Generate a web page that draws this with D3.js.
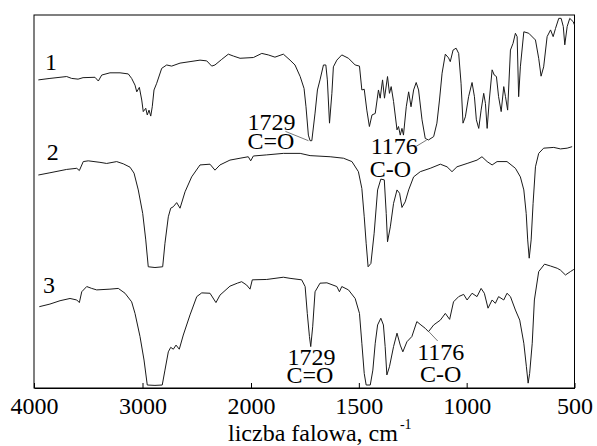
<!DOCTYPE html>
<html>
<head>
<meta charset="utf-8">
<script src="https://cdn.jsdelivr.net/npm/d3@7"></script>
<style>
  body { margin: 0; background: #fff; }
  svg text { font-family: "Liberation Serif", "Times New Roman", serif; fill: #000; }
</style>
</head>
<body>
<div id="chart"></div>
<script>
// wavenumber (cm-1), relative transmittance (arbitrary units, curves stacked)
var spectrum1 = [
  [3960,82.6],[3853,83.0],[3699,83.5],[3653,83.0],[3594,82.8],[3548,83.2],[3438,83.3],[3407,82.3],
  [3376,83.9],[3300,84.5],[3207,84.5],[3131,84.2],[3100,83.0],[3069,81.2],[3053,79.4],[3029,80.6],
  [3007,77.2],[2993,74.1],[2970,75.0],[2956,73.2],[2940,74.5],[2924,72.9],[2910,75.4],[2894,79.9],
  [2869,81.7],[2823,85.7],[2777,86.6],[2731,86.3],[2654,87.1],[2562,87.5],[2470,87.9],[2408,87.7],
  [2362,86.3],[2332,86.6],[2270,88.1],[2209,89.5],[2163,89.0],[2101,88.4],[1989,88.6],[1950,89.7],
  [1920,89.3],[1889,88.7],[1850,89.5],[1819,87.9],[1796,86.6],[1772,83.5],[1754,80.3],[1745,75.4],
  [1734,67.8],[1726,66.3],[1718,66.3],[1703,73.7],[1692,79.9],[1680,82.6],[1664,86.6],[1653,86.6],
  [1646,82.6],[1636,71.0],[1625,79.0],[1618,86.1],[1602,87.9],[1579,89.3],[1548,88.4],[1517,86.6],
  [1497,86.3],[1486,79.9],[1475,80.1],[1463,74.5],[1451,70.1],[1439,73.2],[1424,73.6],[1409,79.9],
  [1401,77.7],[1390,82.6],[1381,77.7],[1367,83.5],[1358,79.0],[1350,80.8],[1339,76.8],[1323,69.2],
  [1316,70.1],[1308,67.8],[1300,69.6],[1293,67.8],[1280,75.4],[1269,79.4],[1258,75.4],[1246,79.9],
  [1234,81.9],[1223,79.9],[1207,71.9],[1192,66.9],[1177,66.5],[1153,67.4],[1138,71.0],[1126,77.2],
  [1114,84.4],[1099,89.5],[1084,88.5],[1076,87.5],[1063,90.6],[1049,91.1],[1037,89.7],[1026,81.7],
  [1017,71.0],[1006,72.7],[991,78.1],[975,81.9],[964,78.1],[955,71.9],[944,69.6],[933,74.5],
  [921,79.0],[913,76.3],[905,69.6],[895,77.2],[882,85.3],[872,83.9],[862,83.5],[852,78.1],
  [840,74.1],[828,80.8],[820,78.1],[810,74.5],[797,90.6],[785,92.4],[774,95.1],[766,94.2],
  [759,78.1],[751,86.1],[735,95.5],[712,95.1],[681,93.3],[666,88.4],[655,83.6],[643,86.1],
  [627,94.2],[611,96.0],[599,94.2],[588,96.4],[573,99.1],[562,99.1],[552,96.9],[545,92.0],
  [534,96.9],[522,99.1],[506,98.2],[500,97.3]
];

var spectrum2 = [
  [3960,57.1],[3853,57.7],[3699,58.6],[3606,58.9],[3582,58.3],[3546,60.7],[3500,60.9],[3392,60.5],
  [3330,60.2],[3238,60.7],[3177,60.1],[3115,59.2],[3078,57.6],[3039,53.1],[2998,46.8],[2970,39.7],
  [2947,32.5],[2885,32.3],[2814,32.5],[2793,38.8],[2762,45.9],[2740,48.2],[2716,48.6],[2685,49.7],
  [2654,48.2],[2608,52.6],[2547,56.6],[2470,59.8],[2378,60.0],[2332,58.4],[2286,59.8],[2194,61.1],
  [2101,61.6],[2025,62.0],[2003,60.9],[1989,62.2],[1927,62.5],[1850,62.9],[1772,62.9],[1726,62.3],
  [1633,62.0],[1571,61.6],[1532,60.7],[1502,58.0],[1486,53.5],[1475,45.9],[1466,38.8],[1457,32.5],
  [1444,33.4],[1429,41.5],[1413,53.1],[1398,56.0],[1382,55.8],[1373,46.8],[1367,39.2],[1354,43.2],
  [1339,49.5],[1323,53.1],[1311,52.2],[1300,48.4],[1285,49.9],[1269,53.1],[1246,56.6],[1215,58.0],
  [1169,58.9],[1122,60.0],[1091,59.3],[1068,58.0],[1045,59.3],[998,60.2],[952,61.1],[929,62.0],
  [905,60.7],[882,59.8],[859,60.7],[813,60.7],[774,58.9],[751,56.6],[735,53.1],[724,46.8],
  [717,39.7],[710,34.8],[701,39.7],[692,49.5],[681,59.3],[666,62.9],[643,64.3],[596,64.5],
  [565,64.1],[534,64.3],[511,64.7]
];

var spectrum3 = [
  [3951,21.8],[3853,22.5],[3760,23.4],[3668,24.0],[3606,23.6],[3582,22.9],[3560,25.8],[3514,27.2],
  [3468,26.7],[3422,26.3],[3300,26.5],[3223,26.7],[3161,25.4],[3100,23.1],[3069,20.0],[3023,13.8],
  [2986,7.5],[2956,0.8],[2885,0.7],[2818,0.8],[2793,4.8],[2762,9.7],[2740,10.9],[2716,10.4],
  [2691,11.5],[2661,10.4],[2624,14.2],[2562,19.6],[2500,24.5],[2454,25.5],[2378,25.4],[2323,22.9],
  [2286,24.9],[2194,27.3],[2126,28.1],[2086,28.5],[2040,27.6],[2009,26.5],[1994,29.0],[1927,29.1],
  [1850,29.7],[1819,29.4],[1765,29.0],[1749,27.2],[1739,20.0],[1729,13.8],[1723,11.1],[1714,16.4],
  [1703,25.8],[1680,28.1],[1648,28.2],[1602,27.2],[1590,25.8],[1579,27.2],[1548,26.3],[1517,24.0],
  [1497,20.0],[1486,12.0],[1475,3.9],[1466,0.8],[1447,0.8],[1435,4.8],[1424,12.0],[1413,16.9],
  [1398,18.7],[1386,16.9],[1378,11.1],[1370,3.5],[1358,5.7],[1339,11.1],[1323,14.7],[1308,11.5],
  [1296,9.7],[1277,12.4],[1254,13.8],[1231,17.8],[1212,16.9],[1192,16.0],[1177,15.1],[1153,16.9],
  [1122,18.2],[1099,20.0],[1079,18.4],[1061,23.1],[1037,24.5],[1014,25.1],[998,23.6],[975,25.4],
  [952,24.5],[933,26.7],[918,25.4],[901,21.4],[882,23.6],[867,22.7],[852,24.5],[828,23.6],
  [813,25.4],[797,24.5],[774,20.9],[754,18.2],[735,12.0],[723,5.7],[715,1.3],[708,3.9],
  [696,12.0],[686,23.6],[666,31.2],[639,33.2],[611,32.7],[580,32.1],[565,31.6],[542,30.3],
  [519,31.2],[503,31.8]
];

var spectra = [spectrum1, spectrum2, spectrum3];
var traceNames = ["1", "2", "3"];
var xTicks = [4000, 3000, 2000, 1500, 1000, 500];
var bandWavenumbers = [1729, 1176];
var bandNames = ["C=O", "C-O"];

var width = 597, height = 446;
var plotLeft = 34, plotRight = 574.5, plotTop = 15, plotBottom = 388;

var svg = d3.select("#chart").append("svg")
    .attr("width", width)
    .attr("height", height);

// the axis is stretched below 2000 cm-1
var x = d3.scaleLinear()
    .domain([4000, 2000, 500])
    .range([plotLeft, 251, plotRight]);

var y = d3.scaleLinear()
    .domain([0, 100])
    .range([plotBottom, plotTop]);

var line = d3.line()
    .x(function(d) { return x(d[0]); })
    .y(function(d) { return y(d[1]); });

svg.append("rect")
    .attr("x", plotLeft)
    .attr("y", plotTop)
    .attr("width", plotRight - plotLeft)
    .attr("height", plotBottom - plotTop)
    .attr("fill", "none")
    .attr("stroke", "#000")
    .attr("stroke-width", 1);

var axis = svg.append("g")
    .attr("transform", "translate(0," + plotBottom + ")")
    .call(d3.axisBottom(x)
        .tickValues(xTicks)
        .tickFormat(d3.format("d"))
        .tickSizeInner(-5)
        .tickSizeOuter(0)
        .tickPadding(9));
axis.select(".domain").attr("stroke", "#000");
axis.selectAll(".tick line").attr("stroke", "#000");
axis.selectAll(".tick text")
    .attr("font-size", 24)
    .attr("font-family", "Liberation Serif")
    .attr("fill", "#000");

svg.selectAll("path.trace")
    .data(spectra)
    .enter().append("path")
    .attr("class", "trace")
    .attr("d", line)
    .attr("fill", "none")
    .attr("stroke", "#1a1a1a")
    .attr("stroke-width", 1)
    .attr("stroke-linejoin", "round");

// curve numbers
var namePos = [[3899, 85.3], [3883, 61.1], [3917, 25.5]];
svg.selectAll("text.name")
    .data(traceNames)
    .enter().append("text")
    .attr("class", "name")
    .attr("x", function(d, i) { return x(namePos[i][0]); })
    .attr("y", function(d, i) { return y(namePos[i][1]); })
    .attr("font-size", 24)
    .text(function(d) { return d; });

function label(px, py, lines, anchor) {
    var t = svg.append("text")
        .attr("font-size", 24)
        .attr("text-anchor", anchor || "start");
    lines.forEach(function(s, i) {
        t.append("tspan")
            .attr("x", px)
            .attr("y", py + i * 19.5)
            .text(s);
    });
}

function leader(x1, y1, x2, y2) {
    svg.append("line")
        .attr("x1", x1).attr("y1", y1)
        .attr("x2", x2).attr("y2", y2)
        .attr("stroke", "#555")
        .attr("stroke-width", 0.8);
}

// band labels on curve 1
var c1 = x(bandWavenumbers[0]), c2 = x(bandWavenumbers[1]);
label(c1 - 62, y(69.3), [String(bandWavenumbers[0]), bandNames[0]]);
leader(c1 - 24, y(68.8), c1 - 1, y(66.3));
label(c2 - 58, y(62.7), [String(bandWavenumbers[1])]);
label(c2 - 59, y(56.6), [bandNames[1]]);
leader(c2 - 13, y(64.7), c2 - 2, y(66.5));

// band labels on curve 3
label(c1 - 22, y(6.2), [String(bandWavenumbers[0])]);
label(c1 - 23, y(1.3), [bandNames[0]]);
label(c2 + 12, y(7.5), [String(bandWavenumbers[1])], "middle");
label(c2 + 12, y(1.7), [bandNames[1]], "middle");
leader(c2 + 0.5, y(15.0), c2 + 9, y(12.6));

// axis title with superscript
var title = svg.append("text")
    .attr("x", 228)
    .attr("y", 441)
    .attr("font-size", 24);
title.append("tspan").text("liczba falowa, cm");
title.append("tspan").attr("dy", -12).attr("dx", 2).attr("font-size", 14).text("-1");
</script>
</body>
</html>
